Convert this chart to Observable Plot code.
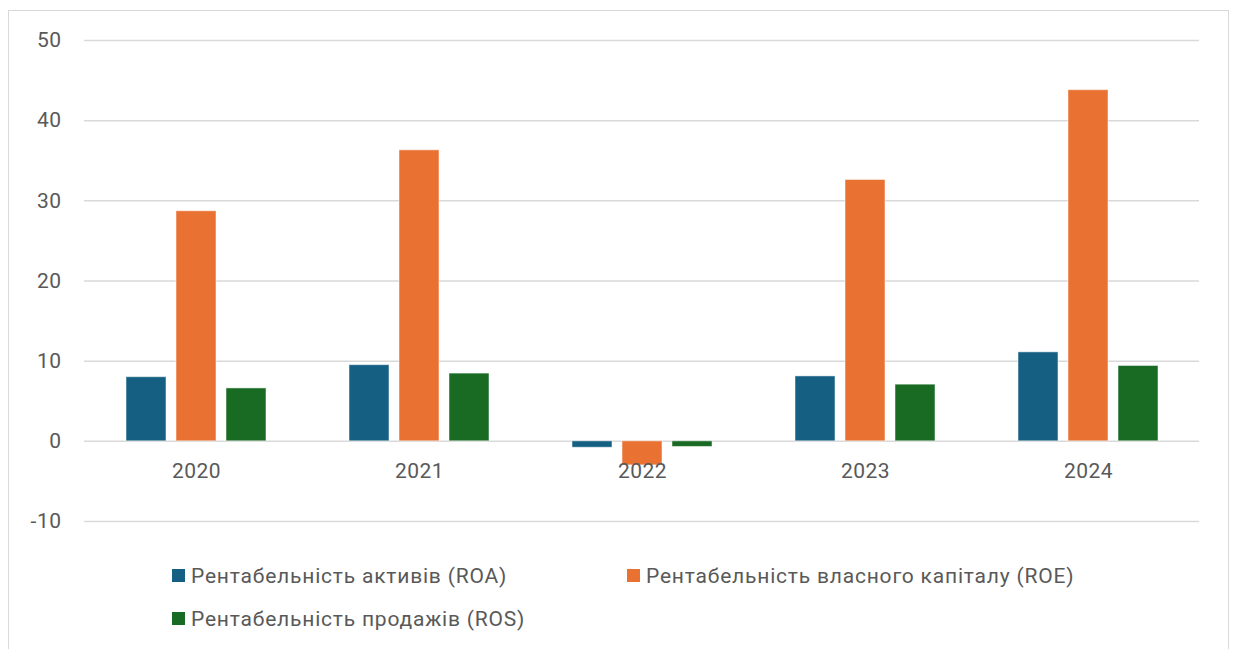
<!DOCTYPE html>
<html>
<head>
<meta charset="utf-8">
<script src="https://cdn.jsdelivr.net/npm/d3@7"></script>
<script src="https://cdn.jsdelivr.net/npm/@observablehq/plot@0.6"></script>
<style>
  body { margin: 0; background: #fff; font-family: Roboto, "Noto Sans", sans-serif; }
  #frame { position: absolute; left: 8px; top: 10px; width: 1221px; height: 700px; border: 1.5px solid #d9d9d9; box-sizing: border-box; }
  #chart { position: absolute; left: 0; top: 0; width: 1233px; }
  #legend { display: grid; grid-template-columns: 455px 455px; padding-left: 172px; row-gap: 20px; margin-top: 19px; color: #595959; font-size: 21px; letter-spacing: 0.8px; }
  .item { display: flex; align-items: center; height: 23px; white-space: nowrap; }
  .sw { width: 13px; height: 13px; margin-right: 6px; flex: none; }
</style>
</head>
<body>
<div id="frame"></div>
<div id="chart"></div>
<script>
const years = ["2020", "2021", "2022", "2023", "2024"];
const seriesNames = ["Рентабельність активів (ROA)", "Рентабельність власного капіталу (ROE)", "Рентабельність продажів (ROS)"];
const roa = [8.0, 9.5, -0.8, 8.1, 11.1];
const roe = [28.7, 36.3, -3.0, 32.6, 43.8];
const ros = [6.6, 8.45, -0.7, 7.07, 9.4];
const colors = ["#156082", "#E97132", "#196B24"];
const yTicks = [-10, 0, 10, 20, 30, 40, 50];

const seriesValues = [roa, roe, ros];
const data = [];
years.forEach((yr, i) => seriesNames.forEach((s, j) => data.push({year: yr, series: s, value: seriesValues[j][i]})));

const chart = Plot.plot({
  width: 1233,
  height: 545,
  marginLeft: 82,
  marginRight: 33,
  marginTop: 40,
  marginBottom: 24,
  style: {fontFamily: "Roboto, 'Noto Sans', sans-serif", fontSize: "21px", color: "#595959", background: "transparent", letterSpacing: "0.5px"},
  fx: {domain: years, padding: 0, axis: null, label: null},
  x: {domain: seriesNames, paddingInner: 0.2, paddingOuter: 0.82, axis: null},
  y: {domain: [-10, 50], ticks: yTicks, label: null},
  color: {domain: seriesNames, range: colors},
  marks: [
    Plot.ruleY(yTicks, {y: d => d, stroke: "#d9d9d9", strokeWidth: 1.5}),
    Plot.axisY(yTicks, {tickSize: 0, tickPadding: 23, fill: "#595959", fontSize: 21, label: null, tickFormat: d => String(d)}),
    Plot.barY(data, {fx: "year", x: "series", y: "value", fill: "series", stroke: "#fff", strokeOpacity: 0.5, strokeWidth: 1}),
    Plot.text(data.filter(d => d.series === seriesNames[1]), {fx: "year", x: "series", y: 0, text: "year", dy: 30, fill: "#595959", fontSize: 21})
  ]
});
const container = document.getElementById("chart");
container.appendChild(chart);

const legend = document.createElement("div");
legend.id = "legend";
seriesNames.forEach((s, j) => {
  const item = document.createElement("div");
  item.className = "item";
  item.innerHTML = `<span class="sw" style="background:${colors[j]}"></span><span>${s}</span>`;
  legend.appendChild(item);
});
container.appendChild(legend);
</script>
</body>
</html>
